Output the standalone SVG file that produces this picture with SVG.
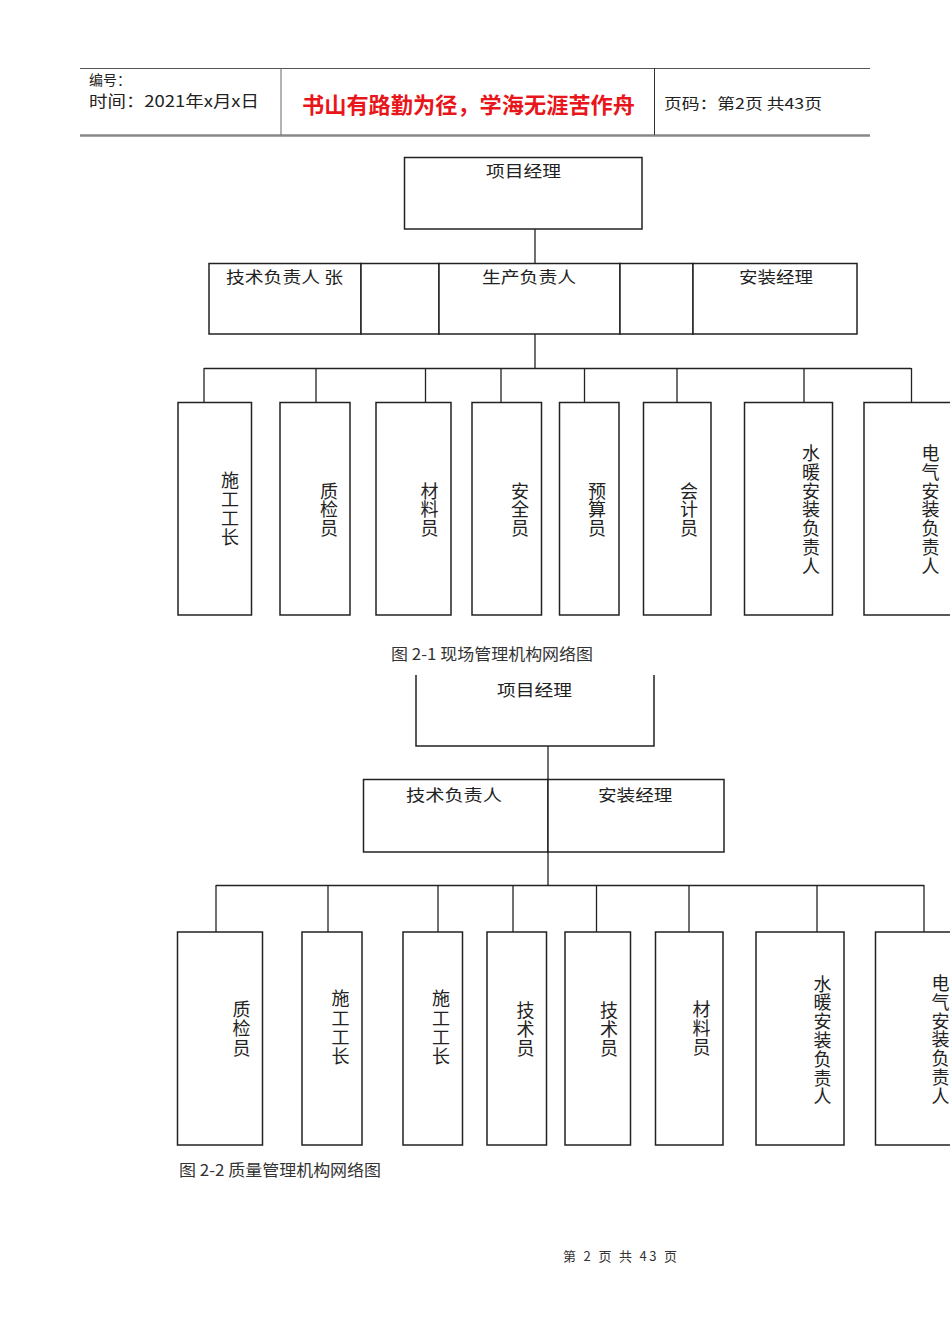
<svg xmlns="http://www.w3.org/2000/svg" width="950" height="1344" viewBox="0 0 950 1344">
<style>
text{font-family:"Noto Sans CJK SC","Noto Sans",sans-serif;fill:#222}
.box{fill:#fff;stroke:#222;stroke-width:1.5}
.con{fill:none;stroke:#222;stroke-width:1.3}
.h{font-size:16px}
.v{font-size:18px;text-anchor:middle;writing-mode:vertical-rl;letter-spacing:0.8px}
.cap{font-size:16px;fill:#333}
</style>
<rect width="950" height="1344" fill="#fff"/>
<g id="header">
<line x1="80" y1="68.5" x2="870" y2="68.5" stroke="#555" stroke-width="1"/>
<line x1="80" y1="135.5" x2="870" y2="135.5" stroke="#888" stroke-width="2.5"/>
<line x1="281" y1="68" x2="281" y2="135" stroke="#666" stroke-width="1"/>
<line x1="654.5" y1="68" x2="654.5" y2="135" stroke="#333" stroke-width="1"/>
<text x="89" y="84.5" font-size="14">编号：</text>
<text x="89" y="106.5" font-size="15.5" textLength="170" lengthAdjust="spacingAndGlyphs">时间：2021年x月x日</text>
<text x="302" y="113" font-size="22" font-weight="bold" style="fill:#e8161b" textLength="333" lengthAdjust="spacingAndGlyphs">书山有路勤为径，学海无涯苦作舟</text>
<text x="664" y="109" font-size="15" textLength="158" lengthAdjust="spacingAndGlyphs">页码：第2页 共43页</text>
</g>
<g id="connectors">
<line class="con" x1="535" y1="229" x2="535" y2="263"/>
<line class="con" x1="535" y1="334" x2="535" y2="368"/>
<line class="con" x1="204" y1="368.5" x2="911" y2="368.5"/>
<line class="con" x1="204" y1="368" x2="204" y2="402"/>
<line class="con" x1="316" y1="368" x2="316" y2="402"/>
<line class="con" x1="425.5" y1="368" x2="425.5" y2="402"/>
<line class="con" x1="501" y1="368" x2="501" y2="402"/>
<line class="con" x1="584.5" y1="368" x2="584.5" y2="402"/>
<line class="con" x1="677" y1="368" x2="677" y2="402"/>
<line class="con" x1="804" y1="368" x2="804" y2="402"/>
<line class="con" x1="911.5" y1="368" x2="911.5" y2="402"/>
<line class="con" x1="548" y1="746" x2="548" y2="779"/>
<line class="con" x1="548" y1="852" x2="548" y2="885.5"/>
<line class="con" x1="216" y1="885.5" x2="924" y2="885.5"/>
<line class="con" x1="216" y1="885" x2="216" y2="932"/>
<line class="con" x1="328" y1="885" x2="328" y2="932"/>
<line class="con" x1="438" y1="885" x2="438" y2="932"/>
<line class="con" x1="513" y1="885" x2="513" y2="932"/>
<line class="con" x1="596.5" y1="885" x2="596.5" y2="932"/>
<line class="con" x1="689" y1="885" x2="689" y2="932"/>
<line class="con" x1="817" y1="885" x2="817" y2="932"/>
<line class="con" x1="924" y1="885" x2="924" y2="932"/>
</g>
<g id="c1-pm"><rect class="box" x="404.5" y="157.5" width="237.5" height="71.5"/><text class="h" x="486" y="177" textLength="75" lengthAdjust="spacingAndGlyphs">项目经理</text></g>
<g id="c1-tech"><rect class="box" x="209" y="263.5" width="152" height="70.5"/><text class="h" x="226" y="283" textLength="117" lengthAdjust="spacingAndGlyphs">技术负责人 张</text></g>
<g id="c1-blank1"><rect class="box" x="361" y="263.5" width="78" height="70.5"/></g>
<g id="c1-prod"><rect class="box" x="439" y="263.5" width="181" height="70.5"/><text class="h" x="482" y="283" textLength="94" lengthAdjust="spacingAndGlyphs">生产负责人</text></g>
<g id="c1-blank2"><rect class="box" x="620" y="263.5" width="73" height="70.5"/></g>
<g id="c1-install"><rect class="box" x="693" y="263.5" width="164" height="70.5"/><text class="h" x="739" y="283" textLength="74" lengthAdjust="spacingAndGlyphs">安装经理</text></g>
<g id="c1-b1"><rect class="box" x="178" y="402.5" width="73.5" height="212.5"/><text class="v" x="230" y="509">施工工长</text></g>
<g id="c1-b2"><rect class="box" x="280" y="402.5" width="70" height="212.5"/><text class="v" x="329" y="510">质检员</text></g>
<g id="c1-b3"><rect class="box" x="376" y="402.5" width="75" height="212.5"/><text class="v" x="429.5" y="510">材料员</text></g>
<g id="c1-b4"><rect class="box" x="472" y="402.5" width="69.5" height="212.5"/><text class="v" x="520" y="510">安全员</text></g>
<g id="c1-b5"><rect class="box" x="559.5" y="402.5" width="59.5" height="212.5"/><text class="v" x="597" y="510">预算员</text></g>
<g id="c1-b6"><rect class="box" x="643.5" y="402.5" width="67.5" height="212.5"/><text class="v" x="689" y="510">会计员</text></g>
<g id="c1-b7"><rect class="box" x="744.5" y="402.5" width="88" height="212.5"/><text class="v" x="811" y="510">水暖安装负责人</text></g>
<g id="c1-b8"><rect class="box" x="864" y="402.5" width="100" height="212.5"/><text class="v" x="930.5" y="510">电气安装负责人</text></g>
<text class="cap" x="391" y="660" textLength="202" lengthAdjust="spacingAndGlyphs">图 2-1 现场管理机构网络图</text>
<g id="c2-pm"><path class="box" d="M416,675 V746 H654 V675"/><text class="h" x="497" y="695.5" textLength="75" lengthAdjust="spacingAndGlyphs">项目经理</text></g>
<g id="c2-tech"><rect class="box" x="363.5" y="779.5" width="184.5" height="72.5"/><text class="h" x="406" y="801" textLength="96" lengthAdjust="spacingAndGlyphs">技术负责人</text></g>
<g id="c2-install"><rect class="box" x="548" y="779.5" width="176" height="72.5"/><text class="h" x="598" y="801" textLength="74.5" lengthAdjust="spacingAndGlyphs">安装经理</text></g>
<g id="c2-b1"><rect class="box" x="177.5" y="932" width="85" height="213"/><text class="v" x="241.5" y="1029" style="letter-spacing:1.4px">质检员</text></g>
<g id="c2-b2"><rect class="box" x="302" y="932" width="60" height="213"/><text class="v" x="340.5" y="1028" style="letter-spacing:1.2px">施工工长</text></g>
<g id="c2-b3"><rect class="box" x="403" y="932" width="59.5" height="213"/><text class="v" x="441" y="1028" style="letter-spacing:1.2px">施工工长</text></g>
<g id="c2-b4"><rect class="box" x="487" y="932" width="59.5" height="213"/><text class="v" x="525.5" y="1030" style="letter-spacing:1.2px">技术员</text></g>
<g id="c2-b5"><rect class="box" x="565" y="932" width="65.5" height="213"/><text class="v" x="609" y="1030" style="letter-spacing:1.2px">技术员</text></g>
<g id="c2-b6"><rect class="box" x="655.5" y="932" width="67.5" height="213"/><text class="v" x="701.5" y="1029" style="letter-spacing:1.2px">材料员</text></g>
<g id="c2-b7"><rect class="box" x="756" y="932" width="88" height="213"/><text class="v" x="822.5" y="1040.5">水暖安装负责人</text></g>
<g id="c2-b8"><rect class="box" x="875.5" y="932" width="100" height="213"/><text class="v" x="940.5" y="1040">电气安装负责人</text></g>
<text class="cap" x="179" y="1176" textLength="202" lengthAdjust="spacingAndGlyphs">图 2-2 质量管理机构网络图</text>
<text x="563" y="1261" font-size="13" style="fill:#333" textLength="114" lengthAdjust="spacing">第 2 页 共 43 页</text>
</svg>
